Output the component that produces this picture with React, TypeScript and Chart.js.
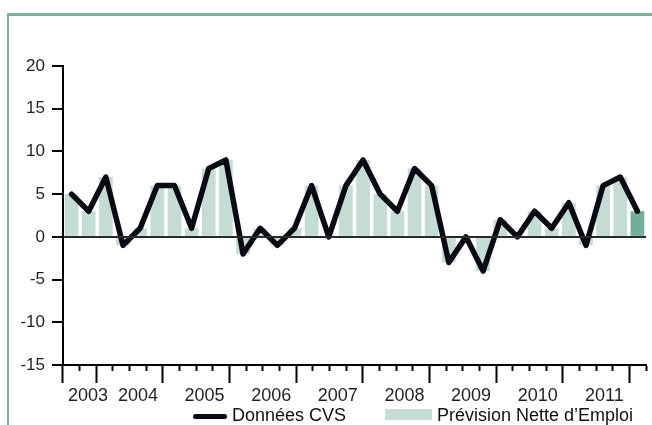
import React, { useEffect, useRef } from 'react';
import { Chart, registerables } from 'chart.js';

Chart.register(...registerables);

const quarters = [
  '2003 T3', '2003 T4',
  '2004 T1', '2004 T2', '2004 T3', '2004 T4',
  '2005 T1', '2005 T2', '2005 T3', '2005 T4',
  '2006 T1', '2006 T2', '2006 T3', '2006 T4',
  '2007 T1', '2007 T2', '2007 T3', '2007 T4',
  '2008 T1', '2008 T2', '2008 T3', '2008 T4',
  '2009 T1', '2009 T2', '2009 T3', '2009 T4',
  '2010 T1', '2010 T2', '2010 T3', '2010 T4',
  '2011 T1', '2011 T2', '2011 T3', '2011 T4',
];

const donneesCVS = [
  5, 3,
  7, -1, 1, 6,
  6, 1, 8, 9,
  -2, 1, -1, 1,
  6, 0, 6, 9,
  5, 3, 8, 6,
  -3, 0, -4, 2,
  0, 3, 1, 4,
  -1, 6, 7, 3,
];

const previsionNette = [
  5, 3,
  7, -1, 1, 6,
  6, 1, 8, 9,
  -2, 1, -1, 1,
  6, 0, 6, 9,
  5, 3, 8, 6,
  -3, 0, -4, 2,
  0, 3, 1, 4,
  -1, 6, 7, 3,
];

const years = ['2003', '2004', '2005', '2006', '2007', '2008', '2009', '2010', '2011'];

const yMin = -15;
const yMax = 20;
const yStep = 5;

const legendLine = 'Données CVS';
const legendBars = 'Prévision Nette d\u2019Emploi';

const FONT = "'Liberation Sans', Arial, Helvetica, sans-serif";
const FRAME = '#7ab59c';
const BAR_LIGHT = '#c4dcd3';
const BAR_DARK = '#72ae98';
const LINE_COLOR = '#0a0a14';
const TEXT = '#231f20';

const yearBlocks = years.map((y) => {
  const idx = quarters.map((q, i) => (q.startsWith(y) ? i : -1)).filter((i) => i >= 0);
  return { label: y, start: idx[0], end: idx[idx.length - 1] + 1 };
});
const bigTicks = new Set<number>([0, ...yearBlocks.map((b) => b.end)]);
const labelAt = new Map<number, string>(yearBlocks.map((b) => [(b.start + b.end) / 2, b.label]));

export default function App() {
  const canvasRef = useRef<HTMLCanvasElement | null>(null);

  useEffect(() => {
    const canvas = canvasRef.current;
    if (!canvas) return;
    const lastIndex = previsionNette.length - 1;
    const chart = new Chart(canvas, {
      type: 'bar',
      data: {
        labels: quarters,
        datasets: [
          {
            type: 'line',
            label: legendLine,
            data: donneesCVS,
            borderColor: LINE_COLOR,
            backgroundColor: LINE_COLOR,
            borderWidth: 5.5,
            borderJoinStyle: 'round',
            borderCapStyle: 'round',
            pointRadius: 0,
            pointHoverRadius: 0,
            tension: 0,
            fill: false,
            order: 0,
            xAxisID: 'x',
            yAxisID: 'y',
          } as any,
          {
            type: 'bar',
            label: legendBars,
            data: previsionNette,
            backgroundColor: (ctx: any) => (ctx.dataIndex === lastIndex ? BAR_DARK : BAR_LIGHT),
            borderWidth: 0,
            barPercentage: 0.8,
            categoryPercentage: 1,
            order: 1,
            xAxisID: 'x',
            yAxisID: 'y',
          } as any,
        ],
      },
      options: {
        responsive: false,
        animation: false,
        events: [],
        layout: { padding: { left: 0, right: 6, top: 66, bottom: 0 } },
        plugins: {
          legend: { display: false },
          tooltip: { enabled: false },
        },
        scales: {
          x: {
            type: 'category',
            display: false,
            offset: true,
          },
          yr: {
            type: 'linear',
            position: 'bottom',
            min: 0,
            max: quarters.length,
            afterBuildTicks: (s: any) => {
              s.ticks = Array.from({ length: quarters.length + 1 }, (_, i) => ({ value: i }));
            },
            afterFit: (s: any) => {
              s.height = 60;
            },
            ticks: {
              autoSkip: false,
              maxRotation: 0,
              minRotation: 0,
              padding: 2,
              color: TEXT,
              font: { family: FONT, size: 18 },
              callback: (v: any) => labelAt.get(Number(v)) ?? '',
            },
            grid: {
              drawOnChartArea: false,
              drawTicks: true,
              tickLength: 18,
              tickWidth: 2,
              tickColor: '#000',
              tickBorderDash: (ctx: any) => (bigTicks.has(ctx.tick?.value) ? [] : [5, 40]),
            },
            border: { display: true, color: '#000', width: 2 },
          },
          y: {
            type: 'linear',
            position: 'left',
            min: yMin,
            max: yMax,
            afterFit: (s: any) => {
              s.width = 63;
            },
            ticks: {
              stepSize: yStep,
              padding: 7,
              color: TEXT,
              font: { family: FONT, size: 17 },
            },
            grid: {
              z: 1,
              drawOnChartArea: true,
              lineWidth: 2,
              color: (ctx: any) => (ctx.tick && ctx.tick.value === 0 ? '#2a2a2a' : 'rgba(0,0,0,0)'),
              tickLength: 11,
              tickWidth: 2,
              tickColor: '#000',
            },
            border: { display: true, color: '#000', width: 2, z: 2 },
          },
        },
      } as any,
    });
    return () => chart.destroy();
  }, []);

  return (
    <div style={{ position: 'absolute', left: 0, top: 0, width: 652, height: 425, overflow: 'hidden', background: '#fff' }}>
      <div
        style={{
          position: 'absolute',
          left: 7,
          top: 13,
          width: 660,
          height: 440,
          borderTop: `3px solid ${FRAME}`,
          borderLeft: `2px solid ${FRAME}`,
          boxSizing: 'border-box',
        }}
      />
      <canvas ref={canvasRef} width={652} height={425} style={{ position: 'absolute', left: 0, top: 0, width: 652, height: 425 }} />
      <div
        style={{
          position: 'absolute',
          left: 193,
          top: 413.5,
          width: 34,
          height: 5.5,
          borderRadius: 3,
          background: LINE_COLOR,
        }}
      />
      <div
        style={{
          position: 'absolute',
          left: 232,
          top: 406,
          fontFamily: FONT,
          fontSize: 18,
          lineHeight: '18px',
          color: '#111',
          whiteSpace: 'nowrap',
        }}
      >
        {legendLine}
      </div>
      <div
        style={{
          position: 'absolute',
          left: 385,
          top: 409,
          width: 47,
          height: 11,
          background: BAR_LIGHT,
        }}
      />
      <div
        style={{
          position: 'absolute',
          left: 437,
          top: 406,
          fontFamily: FONT,
          fontSize: 18,
          lineHeight: '18px',
          color: '#111',
          whiteSpace: 'nowrap',
        }}
      >
        {legendBars}
      </div>
    </div>
  );
}
